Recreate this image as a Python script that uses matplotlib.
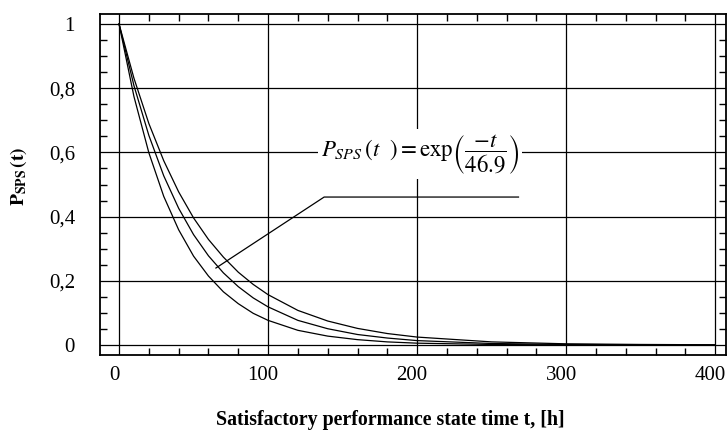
import matplotlib
matplotlib.use("Agg")
import matplotlib.pyplot as plt
import matplotlib.transforms as mtransforms
from matplotlib.ticker import MultipleLocator, FixedLocator

plt.rcParams['font.family'] = ['Liberation Serif', 'DejaVu Serif']
plt.rcParams['mathtext.fontset'] = 'stix'

# time points, [h]
t = [0, 10, 20, 30, 40, 50, 60, 70, 80, 90, 100, 120, 140, 160, 180, 200,
     250, 300, 350, 400]
# lower bound, mean and upper bound curves
p_low = [1.0, 0.774, 0.599, 0.463, 0.359, 0.277, 0.215, 0.166, 0.129, 0.099,
         0.077, 0.046, 0.028, 0.017, 0.010, 0.006, 0.002, 0.0005, 0.0001, 0.0]
p_mid = [1.0, 0.808, 0.653, 0.527, 0.426, 0.344, 0.278, 0.225, 0.182, 0.147,
         0.119, 0.077, 0.051, 0.033, 0.022, 0.014, 0.005, 0.002, 0.001, 0.0]
p_up = [1.0, 0.831, 0.690, 0.574, 0.477, 0.396, 0.329, 0.274, 0.227, 0.189,
        0.157, 0.108, 0.075, 0.052, 0.036, 0.025, 0.010, 0.004, 0.002, 0.001]

xticks = [0, 100, 200, 300, 400]
yticks = [0, 0.2, 0.4, 0.6, 0.8, 1.0]
ylabels = ['0', '0,2', '0,4', '0,6', '0,8', '1']

fig = plt.figure(figsize=(7.27, 4.33), dpi=100)
ax = fig.add_axes([0.1376, 0.180, 0.8614, 0.7877])

for v in xticks:
    ax.axvline(v, color='black', lw=0.9, zorder=1)
for v in yticks:
    ax.axhline(v, color='black', lw=0.9, zorder=1)

for p in (p_low, p_mid, p_up):
    ax.plot(t, p, color='black', lw=0.9, zorder=3)

ax.set_xlim(-12.75, 407.4)
ax.set_ylim(-0.031, 1.031)
ax.xaxis.set_major_locator(FixedLocator(xticks))
ax.yaxis.set_major_locator(FixedLocator(yticks))
ax.set_yticklabels(ylabels)
ax.xaxis.set_minor_locator(MultipleLocator(20))
ax.yaxis.set_minor_locator(MultipleLocator(0.05))
ax.tick_params(which='both', direction='in', top=True, right=True,
               labelsize=15, width=1)
ax.tick_params(which='major', length=0, pad=8)
ax.tick_params(which='minor', length=5)
ax.tick_params(axis='y', which='major', pad=18)
for s in ax.spines.values():
    s.set_linewidth(1.3)

# x tick labels sit a little left of their ticks in the original
shift = mtransforms.ScaledTranslation(-5 / 100, 0, fig.dpi_scale_trans)
for lab in ax.get_xticklabels():
    lab.set_transform(lab.get_transform() + shift)

# leader line from the curves to the formula
ax.plot([65, 137.6, 268], [0.24, 0.461, 0.461], color='black', lw=0.9, zorder=4)
ax.text(202, 0.595,
        r'$P_{SPS}\,(t\ \ )=\mathrm{exp}\left(\dfrac{-t}{46.9}\right)$',
        fontsize=16.5, ha='center', va='center', zorder=5,
        bbox=dict(facecolor='white', edgecolor='none', pad=2))

ax.set_xlabel('Satisfactory performance state time t, [h]',
              fontsize=14.3, fontweight='bold')
ax.xaxis.set_label_coords(0.463, -0.16)
ax.set_ylabel(r'$\mathbf{P}_{\mathbf{SPS}}\,\mathbf{(t)}$', fontsize=14)
ax.yaxis.set_label_coords(-0.113, 0.525)

fig.savefig('out.png', dpi=100)
